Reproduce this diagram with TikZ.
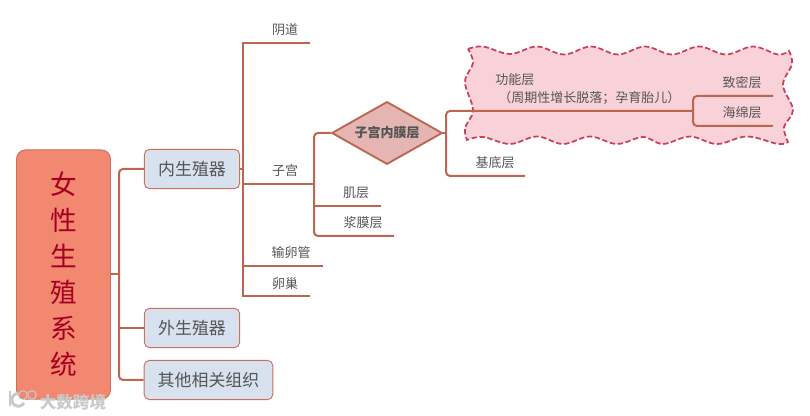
\documentclass[tikz,border=0pt]{standalone}
\usepackage{fontspec}
\setmainfont{Noto Sans CJK SC}
\usetikzlibrary{shapes.geometric}
\definecolor{lnk}{HTML}{BC6650}
\definecolor{rootfill}{HTML}{F2886F}
\definecolor{rootedge}{HTML}{C9705C}
\definecolor{roottext}{HTML}{A50021}
\definecolor{boxfill}{HTML}{D8E1EE}
\definecolor{boxtext}{HTML}{555555}
\definecolor{diamfill}{HTML}{E5B5B3}
\definecolor{cloudfill}{HTML}{F8D2D8}
\definecolor{cloudedge}{HTML}{C9405A}
\definecolor{wmark}{HTML}{C9C9C9}
\tikzset{
  x=0.75pt,y=-0.75pt,
  conn/.style={draw=lnk,line width=1.5pt,rounded corners=3pt},
  rootbox/.style={draw=rootedge,fill=rootfill,rounded corners=7pt,line width=.7pt,minimum width=70.5pt,minimum height=187pt,inner sep=0pt,text=roottext,font=\fontsize{20}{27}\selectfont,align=center},
  topic/.style={draw=rootedge,fill=boxfill,rounded corners=4pt,line width=.7pt,minimum height=29.5pt,inner sep=0pt,text=boxtext,font=\fontsize{12.7}{15}\selectfont},
  leaf/.style={inner sep=0pt,text=boxtext,font=\fontsize{9.75}{12}\selectfont},
  diam/.style={diamond,aspect=1.78,draw=lnk,fill=diamfill,line width=1.4pt,inner sep=0pt,minimum width=83pt,minimum height=47pt,text=boxtext,font=\fontsize{9.75}{12}\selectfont\bfseries},
  wave/.style={smooth,tension=.6}
}
\begin{document}
\begin{tikzpicture}
\useasboundingbox (0,0) rectangle (810,416);
% cloud
\draw[draw=cloudedge,fill=cloudfill,line width=1.3pt,dash pattern=on 4pt off 2pt,line join=miter]
 plot[wave] coordinates {(468,49) (483,46.5) (510,54) (537,46.5) (564,54.5) (591,46.5) (618,54.5) (645,46.5) (672,54.5) (699,46.5) (726,54.5) (753,46.5) (778,54.5) (789,51)}
 -- plot[wave] coordinates {(789,51) (792,64) (783,85) (793,110) (784,127) (788,142)}
 -- plot[wave] coordinates {(788,142) (778,144) (747,136.5) (717,144) (690,136.5) (663,144) (643,137) (617,144) (590,136.5) (563,144) (537,136.5) (510,144) (483,137) (467,140)}
 -- plot[wave] coordinates {(467,140) (465,128) (473,110) (465,82) (473,63) (468,49)} -- cycle;
% nodes
\node[rootbox] (root) at (63.5,274.5) {女\\性\\生\\殖\\系\\统};
\node[topic,minimum width=71.5pt] (inner) at (192,169) {内生殖器};
\node[topic,minimum width=71.5pt] (outer) at (192,328) {外生殖器};
\node[topic,minimum width=96.5pt] (other) at (208.5,380) {其他相关组织};
\node[diam] (endo) at (387,133) {子宫内膜层};
\node[leaf] (yd) at (285,30) {阴道};
\node[leaf] (zg) at (285,171) {子宫};
\node[leaf] (jc) at (356,193) {肌层};
\node[leaf] (jm) at (363,223) {浆膜层};
\node[leaf] (slg) at (291,253) {输卵管};
\node[leaf] (lc) at (285,284) {卵巢};
\node[leaf] (jdc) at (495,163) {基底层};
\node[leaf,anchor=west] (gn) at (495,80) {功能层};
\node[leaf,anchor=west] (gn2) at (498,98) {（周期性增长脱落；孕育胎儿）};
\node[leaf] (zm) at (742,83) {致密层};
\node[leaf] (hm) at (742,113) {海绵层};
\coordinate (a1) at (119,274);
\coordinate (a2) at (243,184);
% connectors
\draw[conn] (root.east |- a1) -- (a1);
\draw[conn] (inner.west) -- (119,169) -- (119,380) -- (other.west);
\draw[conn] (119,328) -- (outer.west);
\draw[conn,rounded corners=0pt] (inner.east) -- (243,169);
\draw[conn,rounded corners=0pt] (310,43) -- (243,43) -- (243,296) -- (310,296);
\draw[conn] (243,266) -- (323,266);
\draw[conn] (a2) -- (314,184);
\draw[conn] (endo.west) -- (314,133) -- (314,236) -- (394,236);
\draw[conn] (314,206) -- (381,206);
\draw[conn] (endo.east) -- (446,133);
\draw[conn] (525,176) -- (446,176) -- (446,111) -- (693,111);
\draw[conn] (773,96) -- (693,96) -- (693,126) -- (773,126);
% watermark
\node[inner sep=0pt,text=wmark,font=\fontsize{12.4}{14}\selectfont\bfseries] (wm) at (73,402) {大数跨境};
\draw[wmark,line width=2pt] (10,391) -- (10,406);
\draw[wmark,line width=2.2pt] (24,403) arc[start angle=30,end angle=270,radius=6.5];
\node[draw=wmark,circle,line width=.8pt,inner sep=0pt,minimum size=6.5pt] (wa) at (23,395) {};
\node[draw=wmark,circle,line width=.8pt,inner sep=0pt,minimum size=6.5pt] (wb) at (32,395) {};
\end{tikzpicture}
\end{document}
